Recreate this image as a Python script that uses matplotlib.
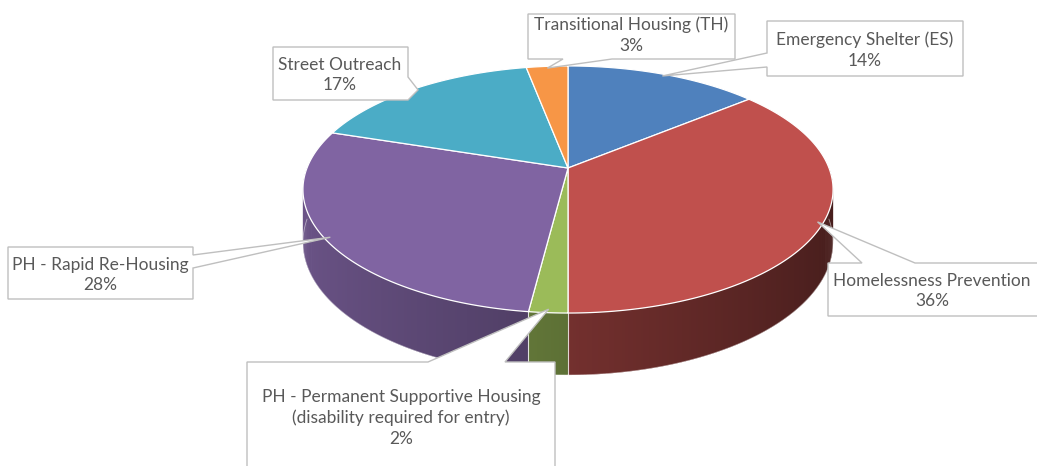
import numpy as np
import matplotlib.pyplot as plt
from matplotlib.patches import Polygon
from matplotlib.collections import PolyCollection

# slices, clockwise from 12 o'clock
categories = ["Emergency Shelter (ES)",
              "Homelessness Prevention",
              "PH - Permanent Supportive Housing\n(disability required for entry)",
              "PH - Rapid Re-Housing",
              "Street Outreach",
              "Transitional Housing (TH)"]
shares = [14, 36, 2, 28, 17, 3]
colors = ["#4F81BD", "#C0504D", "#9BBB59", "#8064A2", "#4BACC6", "#F79646"]

# callout layout (pixels): box, side holding the pointer, pointer base, text centre
callouts = [
    ((767, 21, 963, 76), "left", 53, 67, (865, 50)),
    ((828, 263, 1040, 316), "top", 862, 915, (932, 291)),
    ((247, 362, 555, 480), "top", 428, 505, (401, 418)),
    ((8, 247, 193, 299), "right", 255, 268, (100, 275)),
    ((273, 47, 408, 100), "right", 77, 100, (340, 75)),
    ((528, 14, 735, 59), "bottom", 563, 612, (631, 35)),
]

# pie geometry in pixels (perspective view)
CX, CY = 568, 168
A, B, K, T = 261, 119.8, 0.174, 51.2


def project(theta, r=1.0, drop=0.0):
    """Map an angle (deg, clockwise from back) on the disk to screen pixels."""
    t = np.radians(theta)
    u = r * np.sin(t)
    v = -r * np.cos(t)
    d = 1 - K * v
    return CX + A * u / d, CY + (B * v + drop) / d


def shade(color, theta):
    rgb = np.array(plt.matplotlib.colors.to_rgb(color))
    f = 0.6 - 0.235 * np.sin(np.radians(theta))
    return tuple(np.clip(rgb * f, 0, 1))


def callout_poly(box, side, b0, b1, tip):
    x0, y0, x1, y1 = box
    pts = [(x0, y0)]
    if side == "top":
        pts += [(b0, y0), tip, (b1, y0)]
    pts.append((x1, y0))
    if side == "right":
        pts += [(x1, b0), tip, (x1, b1)]
    pts.append((x1, y1))
    if side == "bottom":
        pts += [(b1, y1), tip, (b0, y1)]
    pts.append((x0, y1))
    if side == "left":
        pts += [(x0, b1), tip, (x0, b0)]
    return pts


fig = plt.figure(figsize=(10.37, 4.66), dpi=100)
ax = fig.add_axes([0, 0, 1, 1])
ax.set_xlim(0, 1037)
ax.set_ylim(466, 0)
ax.axis("off")

bounds = np.concatenate([[0], np.cumsum(shares)]) / sum(shares) * 360

# sides (front half only), shaded in thin overlapping strips
step = 0.5
for i, col in enumerate(colors):
    s, e = max(bounds[i], 90), min(bounds[i + 1], 270)
    if e <= s:
        continue
    th = np.arange(s, e, step)
    quads, fcs = [], []
    for a0 in th:
        a1 = min(a0 + 2 * step, e)
        xs, ys = project(np.linspace(a0, a1, 4))
        xb, yb = project(np.linspace(a1, a0, 4), drop=T)
        quads.append(list(zip(xs, ys)) + list(zip(xb, yb)))
        fcs.append(shade(col, a0 + step / 2))
    ax.add_collection(PolyCollection(quads, facecolors=fcs, edgecolors="none",
                                     linewidths=0, zorder=1))
    bx, by = project(np.linspace(s, e, 200), drop=T)
    ax.plot(bx, by, color="white", lw=0.6, alpha=0.5, zorder=1.5)

# seams on the side
for b in bounds:
    if 90 < b < 270:
        tx, ty = project(b)
        bx, by = project(b, drop=T)
        ax.plot([tx, bx], [ty, by], color="white", lw=0.8, alpha=0.8, zorder=1.5)

# top face
for i, col in enumerate(colors):
    th = np.linspace(bounds[i], bounds[i + 1], 200)
    xs, ys = project(th)
    pts = [(CX, CY)] + list(zip(xs, ys))
    ax.add_patch(Polygon(pts, closed=True, facecolor=col, edgecolor="white",
                         lw=0.9, joinstyle="round", zorder=2))

# callouts
for i, (box, side, b0, b1, tpos) in enumerate(callouts):
    mid = (bounds[i] + bounds[i + 1]) / 2
    tip = project(mid, r=0.98)
    ax.add_patch(Polygon(callout_poly(box, side, b0, b1, tip), closed=True,
                         facecolor="white", edgecolor="#BFBFBF", lw=1.0, zorder=3))
    ax.text(tpos[0], tpos[1], f"{categories[i]}\n{shares[i]}%", ha="center",
            va="center", multialignment="center", linespacing=1.35,
            fontsize=12.5, family=["Lato", "DejaVu Sans"], color="#595959",
            zorder=4)

fig.savefig("out.png", dpi=100)
